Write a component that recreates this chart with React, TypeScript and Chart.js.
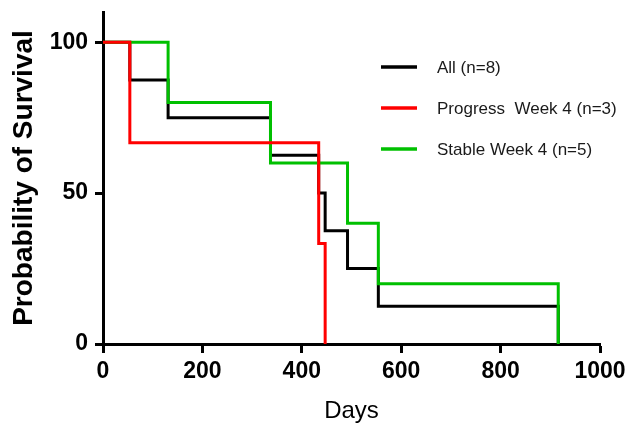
import React, { useEffect, useRef } from "react";
import { Chart, registerables } from "chart.js";

Chart.register(...registerables);

// ---- Data (Kaplan-Meier steps) ----
const allDays = [0, 54, 131, 337, 434, 447, 492, 554, 916];
const allSurvival = [100, 87.5, 75, 62.5, 50, 37.5, 25, 12.5, 0];

const progressDays = [0, 54, 434, 447];
const progressSurvival = [100, 66.7, 33.3, 0];

const stableDays = [0, 131, 337, 492, 554, 916];
const stableSurvival = [100, 80, 60, 40, 20, 0];

const seriesLabels = ["All (n=8)", "Progress  Week 4 (n=3)", "Stable Week 4 (n=5)"];
const seriesColors = ["#000000", "#ff0000", "#00c000"];

const yTickValues = [0, 50, 100];
const xTickStep = 200;

const toPoints = (xs: number[], ys: number[]) => xs.map((x, i) => ({ x, y: ys[i] }));

const legendPlugin = {
  id: "kmLegend",
  afterDraw(chart: any) {
    const { ctx, chartArea } = chart;
    const x0 = chartArea.left + 278;
    const lineLen = 36;
    const textX = chartArea.left + 334;
    const rows = [chartArea.top + 55, chartArea.top + 96, chartArea.top + 137];
    ctx.save();
    ctx.font = "17px 'Liberation Sans', Arial, sans-serif";
    ctx.textBaseline = "middle";
    ctx.textAlign = "left";
    seriesLabels.forEach((label, i) => {
      ctx.strokeStyle = seriesColors[i];
      ctx.lineWidth = 3.5;
      ctx.beginPath();
      ctx.moveTo(x0, rows[i]);
      ctx.lineTo(x0 + lineLen, rows[i]);
      ctx.stroke();
      ctx.fillStyle = "#1a1a1a";
      ctx.fillText(label, textX, rows[i] + 1);
    });
    ctx.restore();
  },
};

export default function App() {
  const canvasRef = useRef<HTMLCanvasElement | null>(null);

  useEffect(() => {
    if (!canvasRef.current) return;
    const chart = new Chart(canvasRef.current, {
      type: "line",
      data: {
        datasets: [
          {
            label: seriesLabels[0],
            data: toPoints(allDays, allSurvival),
            borderColor: seriesColors[0],
            borderWidth: 3,
            stepped: "before",
            pointRadius: 0,
            fill: false,
            order: 3,
          },
          {
            label: seriesLabels[1],
            data: toPoints(progressDays, progressSurvival),
            borderColor: seriesColors[1],
            borderWidth: 3,
            stepped: "before",
            pointRadius: 0,
            fill: false,
            order: 1,
          },
          {
            label: seriesLabels[2],
            data: toPoints(stableDays, stableSurvival),
            borderColor: seriesColors[2],
            borderWidth: 3,
            stepped: "before",
            pointRadius: 0,
            fill: false,
            order: 2,
          },
        ],
      },
      options: {
        responsive: false,
        animation: false,
        devicePixelRatio: 1,
        layout: { padding: { top: 12, right: 27, left: 0, bottom: 0 } },
        plugins: {
          legend: { display: false },
          tooltip: { enabled: false },
        },
        scales: {
          x: {
            type: "linear",
            min: 0,
            max: 1000,
            ticks: {
              stepSize: xTickStep,
              color: "#000",
              padding: 5,
              maxRotation: 0,
              callback: (v: any) => String(v),
              font: { family: "'Liberation Sans', Arial, sans-serif", size: 23, weight: "bold" },
            },
            grid: {
              drawOnChartArea: false,
              drawTicks: true,
              tickLength: 9,
              tickWidth: 3,
              tickColor: "#000",
            },
            border: { display: true, color: "#000", width: 3 },
            title: {
              display: true,
              text: "Days",
              color: "#000",
              padding: { top: 0, bottom: 0 },
              font: { family: "'Liberation Sans', Arial, sans-serif", size: 24, weight: "normal" },
            },
            afterFit: (scale: any) => {
              scale.height = 82;
              scale.paddingLeft = 0;
              scale.paddingRight = 0;
            },
          },
          y: {
            type: "linear",
            min: 0,
            max: 110,
            afterBuildTicks: (scale: any) => {
              scale.ticks = yTickValues.map((v) => ({ value: v }));
            },
            ticks: {
              color: "#000",
              padding: 7,
              font: { family: "'Liberation Sans', Arial, sans-serif", size: 23, weight: "bold" },
            },
            grid: {
              drawOnChartArea: false,
              drawTicks: true,
              tickLength: 8,
              tickWidth: 3,
              tickColor: "#000",
            },
            border: { display: true, color: "#000", width: 3 },
            title: {
              display: true,
              text: "Probability of Survival",
              color: "#000",
              padding: { top: 7, bottom: 0 },
              font: { family: "'Liberation Sans', Arial, sans-serif", size: 28, weight: "bold" },
            },
            afterFit: (scale: any) => {
              scale.width = 103;
              scale.paddingTop = 0;
              scale.paddingBottom = 0;
            },
          },
        },
      },
      plugins: [legendPlugin],
    });
    return () => chart.destroy();
  }, []);

  return (
    <div style={{ position: "fixed", left: 0, top: 0, width: 627, height: 426, background: "#fff" }}>
      <canvas ref={canvasRef} width={627} height={426} style={{ width: 627, height: 426, display: "block" }} />
    </div>
  );
}
